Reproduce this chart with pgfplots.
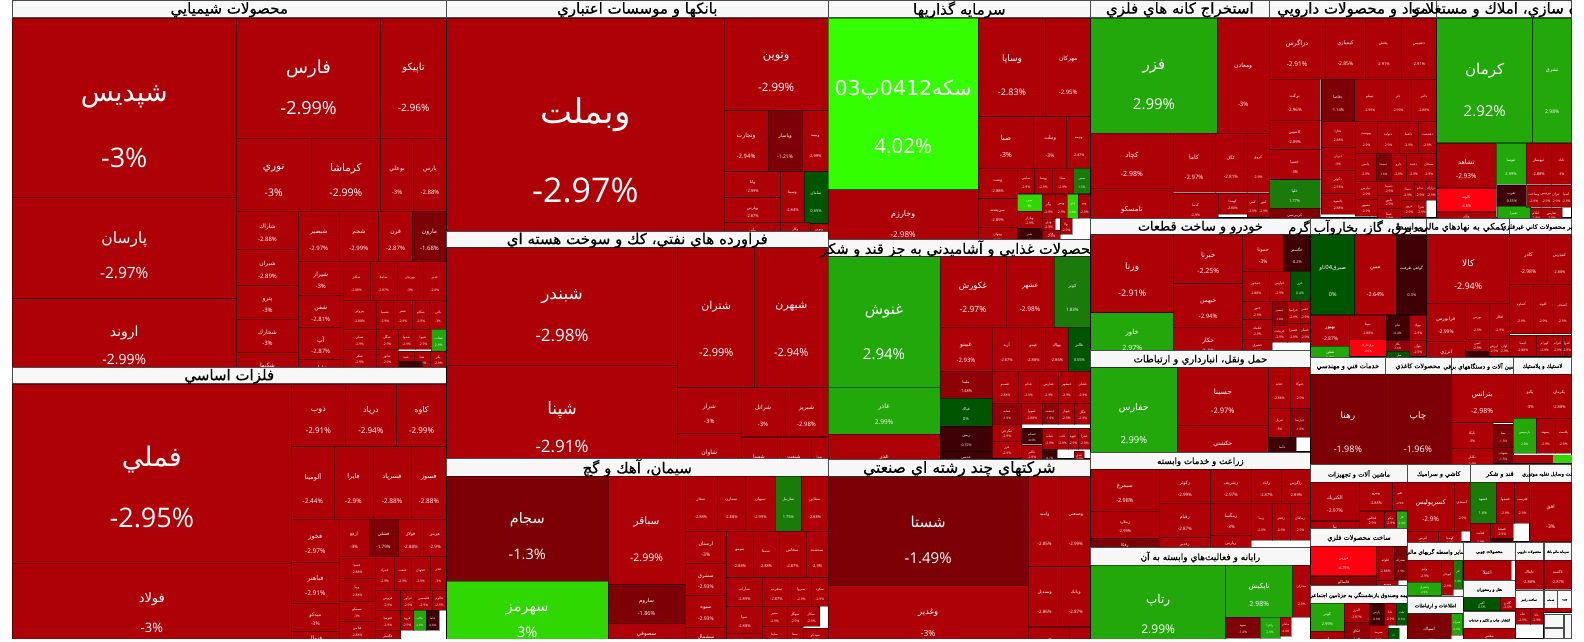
\documentclass[border=0pt]{standalone}
\usepackage{pgfplots}
\pgfplotsset{compat=1.18}
\usepackage{fontspec}
\setmainfont{Open Sans}
\newfontfamily\ar[Script=Arabic]{DejaVu Sans}
\newfontfamily\arh[Script=Arabic,FakeBold=0.5]{DejaVu Sans}
\newfontfamily\pc{Open Sans}
\TeXXeTstate=1
\definecolor{R}{HTML}{AE0007}
\definecolor{M}{HTML}{8F0007}
\definecolor{D}{HTML}{7D0006}
\definecolor{V}{HTML}{3E0005}
\definecolor{H}{HTML}{FF0010}
\definecolor{G}{HTML}{22A80A}
\definecolor{L}{HTML}{33FF00}
\definecolor{B}{HTML}{2FD800}
\definecolor{F}{HTML}{1A7A0A}
\definecolor{N}{HTML}{005500}
\tikzset{txt/.style={text=white,inner sep=0pt,anchor=center}}
% cell: x0 y0 x1 y1 colour size name pct
\newcommand\C[8]{%
 \addplot[fill=#5,draw=black,draw opacity=.42,line width=.8pt,forget plot] coordinates {(#1,#2)(#3,#2)(#3,#4)(#1,#4)} --cycle;
 \node[txt,font=\ar\fontsize{#6}{#6}\selectfont] at (axis cs:{(#1+#3)/2},{#2+.42*(#4-#2)}) {\beginR #7\endR};
 \node[txt,font=\pc\fontsize{#6}{#6}\selectfont] at (axis cs:{(#1+#3)/2},{#2+.75*(#4-#2)}) {#8\%};
}
% tiny red cell: x0 y0 x1 y1 name pct
\newcommand\T[6]{\C{#1}{#2}{#3}{#4}{R}{3.4}{#5}{#6}}
% group: x0 y0 x1 y1 header-bottom size title
\newcommand\Gr[7]{%
 \addplot[fill=white,draw=black,line width=.7pt,forget plot] coordinates {(#1,#2)(#3,#2)(#3,#4)(#1,#4)} --cycle;
 \addplot[fill=black!3,draw=black!70,line width=.7pt,forget plot] coordinates {(#1,#2)(#3,#2)(#3,#5)(#1,#5)} --cycle;
 \node[inner sep=0pt,text=black,font=\arh\fontsize{#6}{#6}\selectfont] at (axis cs:{(#1+#3)/2},{(#2+#5)/2+1}) {\beginR #7\endR};
}
\begin{document}
\begin{tikzpicture}
\begin{axis}[scale only axis,width=1584pt,height=642pt,xmin=0,xmax=1584,ymin=0,ymax=642,y dir=reverse,hide axis,clip=true]
% 1 chemicals
\Gr{12}{0}{446.5}{367}{17.5}{15}{محصولات شيميايي}
\C{12}{18}{236.5}{205}{R}{27}{شپديس}{-3}
\C{12}{197}{236.5}{298.5}{R}{15.5}{پارسان}{-2.97}
\C{12}{298.5}{236.5}{380}{R}{14}{اروند}{-2.99}
\C{236.5}{18}{380.7}{138}{R}{18}{فارس}{-2.99}
\C{380.7}{18}{446.5}{138}{R}{10}{تاپيكو}{-2.96}
\C{236.5}{138}{311}{211}{R}{10.5}{نوري}{-3}
\C{311}{138}{380.7}{211}{R}{10.5}{كرماشا}{-2.99}
\C{380.7}{138}{413.5}{211}{R}{6}{بوعلي}{-3}
\C{413.5}{138}{446.5}{211}{R}{6}{پارس}{-2.88}
\C{236.5}{211}{298.5}{249}{R}{6}{شاراك}{-2.88}
\C{236.5}{249}{298.5}{285}{R}{6}{شيران}{-2.89}
\C{236.5}{285}{298.5}{319}{R}{6}{پترو}{-3}
\C{236.5}{319}{298.5}{352}{R}{6}{شخارك}{-3}
\C{236.5}{352}{298.5}{385}{R}{6}{شكپها}{-2.9}
\C{298.5}{211}{339}{261}{R}{6}{شبصير}{-2.97}
\C{339}{211}{378.7}{261}{R}{6}{شجم}{-2.99}
\C{378.7}{211}{412.5}{261}{R}{6}{قرن}{-2.87}
\C{412.5}{211}{446.5}{261}{D}{6}{مارون}{-1.68}
\C{298.5}{261}{343}{295}{R}{6}{شيراز}{-3}
\C{298.5}{295}{343}{327}{R}{6}{شفن}{-2.81}
\C{298.5}{327}{343}{359}{R}{6}{آپ}{-2.87}
\C{298.5}{359}{343}{380}{R}{5}{شلعاب}{-2.9}
\T{343}{261}{370}{300}{شكلر}{-2.88}
\T{370}{261}{397}{300}{شاملا}{-2.87}
\T{397}{261}{423}{300}{بهرنيان}{-3}
\T{423}{261}{446.5}{300}{غدير}{-2.8}
\T{343}{300}{376}{329}{پتروفن}{-2.88}
\T{376}{300}{393.5}{329}{شسپا}{-2.9}
\T{393.5}{300}{412}{329}{شفر}{-2.9}
\T{412}{300}{429.7}{329}{شكام}{-2.9}
\T{429.7}{300}{446.5}{329}{بالي}{-3}
\T{343}{329}{376}{349}{شيلي}{-2.9}
\T{376}{329}{398}{349}{شگل}{-2.9}
\T{398}{329}{415}{349}{شدوا}{-2.9}
\T{415}{329}{431}{349}{شيوا}{-2.9}
\C{431}{329}{446.5}{351}{G}{3.4}{شتاب}{2.9}
\T{343}{349}{376}{367}{شكر}{-2.9}
\T{376}{349}{398}{367}{شلوز}{-2.9}
\T{398}{351}{414}{367}{شيد}{-2.9}
\T{414}{351}{430}{367}{شتا}{-2.9}
\T{430}{351}{446.5}{367}{پكر}{-2.9}
\C{399}{361}{422}{372}{V}{3}{}{-1}
% 2 base metals
\Gr{12}{367}{446.5}{650}{383.7}{15}{فلزات اساسي}
\C{12}{384}{291.7}{563}{R}{27}{فملي}{-2.95}
\C{12}{563}{291.7}{650}{R}{13}{فولاد}{-3}
\C{291.7}{384}{345}{446.7}{R}{8}{ذوب}{-2.91}
\C{345}{384}{396.7}{446.7}{R}{8}{درپاد}{-2.94}
\C{396.7}{384}{446.5}{446.7}{R}{8}{كاوه}{-2.99}
\C{291.7}{446.7}{334}{519}{R}{6.5}{آلومينا}{-2.44}
\C{334}{446.7}{373}{519}{R}{6.5}{فايرا}{-2.9}
\C{373}{446.7}{411}{519}{R}{6.5}{فسرپاد}{-2.88}
\C{411}{446.7}{446.5}{519}{R}{6.5}{فسوز}{-2.88}
\C{291.7}{519}{339}{562}{R}{6.5}{فخوز}{-2.97}
\C{339}{519}{369}{556}{R}{4.5}{ارفع}{-3}
\C{369}{519}{398}{556}{D}{4.5}{فشلي}{-1.79}
\C{398}{519}{423.5}{556}{R}{4.5}{فولاژ}{-2.88}
\C{423.5}{519}{446.5}{556}{R}{4.5}{هرمز}{-2.9}
\C{291.7}{562}{339}{603}{R}{6.5}{فباهنر}{-2.91}
\C{291.7}{603}{339}{631}{R}{5}{ميدكو}{-3}
\C{291.7}{631}{339}{650}{R}{6}{فنوال}{-2.9}
\T{339}{556}{375}{578}{فسپا}{-2.88}
\T{339}{578}{375}{601}{ويپا}{-2.88}
\T{339}{601}{375}{621}{سيمكو}{-3}
\T{339}{621}{375}{640}{فلامي}{-2.88}
\T{375}{556}{394}{590}{فمراد}{-2.9}
\T{394}{556}{411}{590}{فنفت}{-2.9}
\T{411}{556}{430}{590}{فجهان}{-2.9}
\T{430}{556}{446.5}{590}{فجر}{-3}
\T{375}{590}{400.7}{610}{فروس}{-2.9}
\T{400.7}{590}{415.5}{610}{فرآور}{-2.9}
\T{415.5}{590}{432}{610}{فاسمين}{-2.9}
\T{432}{590}{446.5}{610}{فالوم}{-2.9}
\T{375}{610}{400.7}{630}{فتوسا}{-2.9}
\T{400.7}{610}{413.5}{630}{فرود}{-2.9}
\C{413.5}{610}{426}{630}{G}{3}{بكاب}{2.9}
\C{426}{610}{439}{630}{V}{3}{فاما}{-0.8}
\T{375}{630}{400.7}{645}{فگستر}{-2.9}
% 3 banks
\Gr{446.5}{0}{828}{230}{17.5}{15}{بانكها و موسسات اعتباري}
\C{446.5}{18}{724.3}{248}{R}{34}{وبملت}{-2.97}
\C{724.3}{18}{828}{110.5}{R}{11.5}{وتوين}{-2.99}
\C{724.3}{110.5}{768}{171.5}{R}{6}{وتجارت}{-2.94}
\C{768}{110.5}{802.3}{171.5}{D}{5}{وپاسار}{-1.21}
\C{802.3}{110.5}{828}{171.5}{R}{4}{وبيمه}{-2.99}
\C{724.3}{171.5}{780.7}{197.5}{R}{4}{وانا}{-2.99}
\C{724.3}{197.5}{780.7}{222.5}{R}{4}{وپارس}{-2.87}
\C{780.7}{171.5}{804}{222.5}{R}{4}{وسينا}{-2.84}
\C{804}{171.5}{828}{223.7}{N}{4}{سامان}{0.65}
\T{724.3}{222.5}{780.7}{240}{وآتي}{-2.9}
\T{780.7}{222.5}{810}{240}{وكار}{-2.9}
\T{810}{223.7}{828}{240}{ونوين}{-2.9}
% 4 refinery
\Gr{446.5}{231}{828}{458}{247.5}{15}{فراورده هاي نفتي، كك و سوخت هسته اي}
\C{446.5}{247.5}{677.7}{365}{R}{17}{شبندر}{-2.98}
\C{446.5}{365}{677.7}{473}{R}{17}{شپنا}{-2.91}
\C{677.7}{247.5}{754.7}{387.7}{R}{11}{شتران}{-2.99}
\C{754.7}{247.5}{828}{387.7}{R}{11}{شبهرن}{-2.94}
\C{677.7}{387.7}{741}{433}{R}{6}{شراز}{-3}
\C{677.7}{433}{741}{480}{R}{6}{شاوان}{-2.9}
\C{741}{387.7}{785}{436.7}{R}{6}{شرانل}{-3}
\C{785}{387.7}{828}{436.7}{R}{6}{شبريز}{-2.98}
\C{741}{437}{777}{485}{R}{5}{شسپا}{-2.9}
\C{777}{437}{811}{485}{R}{5}{شنفت}{-2.9}
\C{811}{437}{828}{485}{R}{3.4}{شدا}{-2.9}
% 5 cement
\Gr{446.5}{458}{828}{650}{476}{15}{سيمان، آهك و گچ}
\C{446.5}{476}{608}{581}{D}{14.5}{سجام}{-1.3}
\C{446.5}{581}{608}{650}{B}{14.5}{سهرمز}{3}
\C{608}{476}{685}{584.7}{R}{10.5}{سباقر}{-2.99}
\C{608}{584.7}{685}{623}{D}{5.5}{ساروم}{-1.86}
\C{608}{623}{685}{650}{R}{5.5}{سصوفي}{-2.9}
\C{685}{476}{717}{531}{R}{4}{سفار}{-2.88}
\C{717}{476}{745.7}{531}{R}{4}{سمازن}{-2.88}
\C{745.7}{476}{775}{531}{R}{4}{سبهان}{-2.99}
\C{775}{476}{801.7}{531}{F}{4}{ساربيل}{1.75}
\C{801.7}{476}{828}{531}{R}{4}{سقاين}{-2.88}
\C{685}{531}{726.7}{563}{R}{5}{ارستان}{-3}
\C{685}{563}{726.7}{595}{R}{5}{سشرق}{-2.93}
\C{685}{595}{726.7}{627}{R}{5}{سيوه}{-2.93}
\C{685}{627}{726.7}{650}{R}{5}{سشمال}{-2.9}
\C{726.7}{531}{753}{577.7}{R}{4}{سيمو}{-2.88}
\C{753}{531}{779}{577.7}{R}{4}{سمتا}{-2.88}
\C{779}{531}{806}{577.7}{R}{4}{سخاش}{-2.87}
\C{806}{531}{828}{577.7}{R}{4}{سدشت}{-2.9}
\C{726.7}{577.7}{762}{606}{R}{4}{ساراب}{-2.89}
\C{762}{577.7}{791}{606}{R}{4}{سغرب}{-2.87}
\C{791}{577.7}{811.7}{606}{R}{3.4}{سبزوا}{-2.9}
\C{811.7}{577.7}{828}{606}{R}{3.4}{سكرد}{-2.9}
\C{726.7}{606}{762}{633}{R}{4}{سپا}{-2.88}
\T{762}{606}{787}{626}{سنير}{-2.9}
\T{787}{606}{803}{626}{سهگل}{-2.9}
\T{803}{606}{819.7}{626}{سكار}{-2.9}
\T{726.7}{633}{762}{650}{سپتا}{-2.9}
\T{762}{626}{787}{645}{ساينا}{-2.9}
\T{787}{626}{803}{645}{سفا}{-2.9}
\T{803}{628}{828}{645}{سيدكو}{-2.9}
% 6 investments
\Gr{828}{0}{1090.7}{239}{17.5}{15}{سرمايه گذاريها}
\C{828}{18}{978.3}{189.5}{L}{20.5}{سكه\beginL 0412\endL پ\beginL 03\endL}{4.02}
\C{828}{189.5}{978.3}{250}{R}{8}{وخارزم}{-2.98}
\C{978.3}{18}{1045.7}{116.5}{R}{9}{وساپا}{-2.83}
\C{1045.7}{18}{1090.7}{116.5}{R}{6}{مهركان}{-2.95}
\C{978.3}{116.5}{1033.5}{168.3}{R}{7}{صبا}{-3}
\C{1033.5}{116.5}{1066.7}{168.3}{R}{5}{وملت}{-3}
\C{1066.7}{116.5}{1090.7}{168.3}{R}{3.6}{وبيمه}{-2.87}
\C{978.3}{168.3}{1017}{198.7}{R}{4}{ونفت}{-2.88}
\C{978.3}{198.7}{1017}{227}{R}{4}{سي‌پشته}{-2.89}
\T{978.3}{227}{1017}{245}{ومهان}{-2.9}
\T{1017}{168.3}{1034.7}{193.5}{سامي}{-2.9}
\T{1034.7}{168.3}{1052}{193.5}{وپسا}{-2.9}
\T{1052}{168.3}{1073.3}{193.5}{سابا}{-2.9}
\C{1073.3}{168.3}{1090.7}{193.5}{F}{3.2}{سس}{1.5}
\C{1017}{194}{1042}{211}{B}{3.2}{ثمين}{3}
\T{1017}{211}{1042}{228}{وبازار}{-2.9}
\C{1017}{228}{1042}{245}{V}{3}{شير}{-0.7}
\T{1042}{194}{1055}{218}{وگر}{-2.9}
\T{1055}{194}{1067.3}{218}{ويس}{-2.9}
\C{1067.3}{194}{1078}{218}{B}{3}{ولي}{2.9}
\T{1078}{194}{1090.7}{218}{وبو}{-2.9}
\T{1042}{218}{1055}{230}{ودي}{-2.9}
\T{1060}{218}{1072}{234}{ولا}{-2.9}
\T{1042}{230}{1060}{239}{وتر}{-2.9}
% 7 food
\Gr{828}{239}{1090.7}{458}{256.7}{14.5}{محصولات غذايي و آشاميدني به جز قند و شكر}
\C{828}{256.7}{940}{387.3}{G}{15}{غنوش}{2.94}
\C{828}{387.3}{940}{434.3}{G}{6.5}{غاذر}{2.99}
\C{828}{434.3}{940}{490}{R}{6}{غدر}{-2.9}
\C{940}{256.7}{1006}{327}{R}{8.5}{غكورش}{-2.97}
\C{1006}{256.7}{1054}{327}{R}{6.5}{غشهر}{-2.98}
\C{1054}{256.7}{1090.7}{327}{F}{4.5}{كوثر}{1.83}
\C{940}{327}{992}{371}{R}{6}{غبينو}{-2.93}
\C{992}{327}{1021}{371}{R}{4}{آريه}{-2.87}
\C{1021}{327}{1045.7}{371}{R}{4}{غپينو}{-2.88}
\C{1045.7}{327}{1068}{371}{R}{4}{بهپاك}{-2.86}
\C{1068}{327}{1090.7}{371}{N}{4}{غالبر}{0.55}
\C{940}{371}{992}{398.3}{M}{4}{ملبنا}{-1.48}
\C{940}{398.3}{992}{426}{N}{4}{غپاك}{0}
\C{940}{426}{992}{451}{V}{3.6}{زمين}{-0.72}
\C{940}{451}{992}{468}{V}{3.6}{غديس}{-0.7}
\T{992}{371}{1018}{403}{غصينو}{-2.88}
\T{1018}{371}{1039}{403}{غدام}{-2.9}
\T{1039}{371}{1058.3}{403}{غفارس}{-2.9}
\T{1058.3}{371}{1075}{403}{غبشهر}{-2.9}
\T{1075}{371}{1090.7}{403}{غشان}{-2.9}
\C{992}{403}{1021.7}{424}{M}{3.2}{غمايه}{-1.9}
\T{1021.7}{403}{1042}{424}{غمهرا}{-2.88}
\C{1042}{403}{1058}{424}{M}{3.2}{غدشت}{-1.9}
\T{1058}{403}{1074.7}{424}{غبهار}{-2.9}
\T{1074.7}{403}{1090.7}{424}{غگل}{-2.9}
\T{992}{424}{1021.7}{441}{غگرجي}{-2.9}
\T{992}{441}{1021.7}{458}{غزر}{-2.9}
\C{1021.7}{428}{1042}{444}{V}{3}{غسالم}{-0.6}
\T{1021.7}{445}{1042}{462}{غالبر}{-2.9}
\T{1042}{428}{1057}{449}{غناب}{-2.9}
\T{1057}{428}{1068}{449}{غاب}{-2.9}
\T{1068}{428}{1078}{449}{غيوه}{-2.9}
\T{1078}{428}{1090.7}{449}{غفرا}{-2.9}
\C{1042}{449}{1057}{462}{V}{3}{}{-0.7}
\T{1074}{451}{1084}{462}{غدي}{-2.9}
% 8 multi-industry
\Gr{828}{459}{1090.7}{650}{476.7}{15.5}{شركتهاي چند رشته اي صنعتي}
\C{828}{476.7}{1028.3}{585}{D}{15}{شستا}{-1.49}
\C{828}{585}{1028.3}{650}{R}{8.5}{وغدير}{-3}
\C{1028.3}{476.7}{1061}{566.7}{R}{4.5}{واميد}{-2.85}
\C{1061}{476.7}{1090.7}{566.7}{R}{4.5}{وصنعتي}{-2.99}
\C{1028.3}{566.7}{1061}{626.7}{R}{4.5}{وسنديل}{-2.86}
\C{1061}{566.7}{1090.7}{626.7}{R}{4.5}{وبانك}{-2.87}
\C{1028.3}{627}{1069.3}{660}{R}{4}{وپاكس}{-2.9}
\C{1069.3}{627}{1090.7}{660}{R}{3.5}{وسپه}{-2.9}
% 9 mining
\Gr{1090.7}{0}{1269}{217}{17.5}{15}{استخراج كانه هاي فلزي}
\C{1090.7}{18}{1217.3}{133}{G}{15}{فزر}{2.99}
\C{1217.3}{18}{1269}{133}{R}{6}{ومعادن}{-3}
\C{1090.7}{133}{1173}{188}{R}{7}{كچاد}{-2.98}
\C{1090.7}{188}{1173}{240}{R}{7}{تامسكو}{-2.9}
\C{1173}{133}{1215}{192}{R}{6}{كاما}{-2.97}
\C{1215}{133}{1247}{192}{R}{4.5}{كگل}{-2.81}
\C{1247}{133}{1269}{192}{R}{3.6}{كروي}{-2.9}
\C{1173}{193}{1218}{222}{R}{3.6}{كدما}{-2.9}
\T{1218}{193}{1247}{214}{كهمدا}{-2.88}
\T{1247}{193}{1258}{217}{كمي}{-2.9}
\T{1258}{193}{1269}{217}{كنور}{-2.9}
% 10 pharma
\Gr{1269}{0}{1436.7}{217}{17.5}{15}{مواد و محصولات دارويي}
\C{1269}{18}{1325}{79}{R}{6.5}{دزاگرس}{-2.91}
\C{1325}{18}{1365.7}{79}{R}{5}{كيميازي}{-2.85}
\C{1365.7}{18}{1401}{79}{R}{4}{پخش}{-2.91}
\C{1401}{18}{1436.7}{79}{R}{4}{دشيمي}{-2.91}
\C{1269}{79}{1320.3}{120}{R}{4.5}{بركت}{-2.96}
\C{1269}{120}{1320.3}{149.5}{R}{4}{كاسپين}{-2.89}
\C{1269}{149.5}{1320.3}{179.5}{R}{4}{خسيا}{-3}
\C{1269}{179.5}{1320.3}{208}{F}{4}{خلپا}{1.77}
\C{1269}{208}{1320.3}{225}{D}{3.6}{كي‌بي‌سي}{-1.9}
\C{1321}{79}{1354.7}{121}{D}{4}{دقاضا}{-1.14}
\T{1354.7}{79}{1385}{121}{تيپيكو}{-2.99}
\T{1385}{79}{1411}{121}{دلر}{-2.99}
\T{1411}{79}{1436.7}{121}{دالبر}{-2.88}
\T{1321}{121}{1355}{147}{دفارا}{-2.88}
\T{1321}{147}{1355}{170}{ديران}{-3}
\T{1321}{170}{1355}{193}{دكوثر}{-2.93}
\T{1321}{193}{1355}{214}{داسوه}{-2.88}
\T{1355}{121}{1377}{153}{پيوست}{-2.9}
\T{1377}{121}{1399}{153}{دتوليد}{-2.9}
\T{1399}{121}{1418}{153}{دلقما}{-2.9}
\T{1418}{121}{1436.7}{153}{دهدشت}{-2.9}
\T{1355}{153}{1376}{181}{دامين}{-2.9}
\C{1376}{153}{1391}{181}{D}{3}{دسبحا}{-1.6}
\T{1391}{153}{1406}{181}{دارو}{-2.9}
\T{1406}{153}{1421}{181}{دعبيد}{-2.9}
\T{1421}{153}{1436.7}{181}{سبحان}{-2.9}
\T{1355}{181}{1377}{199}{دپارس}{-2.9}
\T{1355}{199}{1377}{216}{دشبهر}{-2.9}
\T{1377}{181}{1401}{195}{دسينا}{-2.9}
\T{1377}{195}{1401}{208}{دابور}{-2.9}
\T{1377}{208}{1401}{222}{شفا}{-2.9}
\T{1401}{181}{1414}{200}{دتماد}{-2.9}
\T{1414}{181}{1426}{200}{ددام}{-2.9}
\T{1426}{181}{1436.7}{200}{درازك}{-2.9}
\T{1401}{200}{1417}{217}{دروز}{-2.9}
\T{1417}{200}{1426}{217}{دفرا}{-2.9}
% 11 construction
\Gr{1436.7}{0}{1571.7}{217}{17.5}{15}{انبوه سازي، املاك و مستغلات}
\C{1436.7}{18}{1532.7}{142.7}{G}{15}{كرمان}{2.92}
\C{1532.7}{18}{1571.7}{142.7}{G}{5}{ثشرق}{2.98}
\C{1436.7}{143}{1496}{187.7}{R}{6.5}{ثشاهد}{-2.93}
\C{1496}{143}{1526}{184}{G}{4}{ثنوسا}{2.99}
\C{1526}{143}{1551}{184}{R}{4}{ثبهساز}{-2.88}
\C{1551}{143}{1571.7}{184}{R}{3.6}{ثاباد}{-3}
\C{1436.7}{188}{1496}{211.7}{H}{3.8}{ثالوند}{-4.8}
\T{1436.7}{212}{1496}{222}{وآذر}{-2.9}
\C{1496.7}{185}{1526}{206}{V}{3.6}{ثغرب}{-0.55}
\C{1497}{206}{1530.7}{225}{G}{3.4}{ثعمرا}{2.9}
\T{1526.7}{185}{1541}{207}{وساخت}{-2.9}
\T{1541}{185}{1551}{207}{ثپرديس}{-2.9}
\T{1551}{185}{1561}{207}{ثتران}{-2.9}
\T{1561}{185}{1571.7}{207}{آسيا}{-2.9}
\T{1530.7}{208}{1541}{222}{اتكام}{-2.9}
\T{1541}{208}{1562}{222}{ثفارس}{-2.9}
% 12 auto
\Gr{1090.7}{218}{1310}{350}{234.7}{12.8}{خودرو و ساخت قطعات}
\C{1090.7}{234.7}{1173.7}{312.7}{R}{9}{ورنا}{-2.91}
\C{1090.7}{312.7}{1173.7}{360}{G}{7}{خاور}{2.97}
\C{1173.7}{234.7}{1242.7}{283.7}{R}{7}{خبرنا}{-2.25}
\C{1173.7}{283.7}{1242.7}{327}{R}{6}{خبهمن}{-2.94}
\C{1173.7}{327}{1242.7}{360}{R}{6}{خكار}{-2.9}
\C{1242.7}{234.7}{1283.7}{271}{R}{5}{خموتا}{-3}
\C{1283.7}{234.7}{1310}{271}{V}{4}{خگستر}{-0.2}
\T{1242.7}{271}{1269}{301}{خمحور}{-2.88}
\T{1269}{271}{1290}{301}{خپارس}{-2.9}
\C{1290}{271}{1310}{301}{N}{3.4}{خزر}{0.4}
\T{1242.7}{301}{1272}{319.7}{ختور}{-2.9}
\T{1242.7}{319.7}{1272}{339}{خكمك}{-2.9}
\T{1242.7}{339}{1272}{355}{خشرق}{-2.9}
\C{1272}{301}{1287}{325}{M}{3}{خنصير}{-1.8}
\T{1287}{301}{1300}{323}{خزاميا}{-2.9}
\T{1300}{301}{1310}{323}{خفنر}{-2.9}
\T{1272}{325}{1287}{342}{خريخت}{-2.9}
\T{1287}{323}{1300}{342}{خعمرا}{-2.9}
\T{1300}{323}{1310}{342}{خساز}{-2.9}
% 13 transport
\Gr{1090.7}{350}{1310}{451.7}{367.7}{10}{حمل ونقل، انبارداري و ارتباطات}
\C{1090.7}{367.7}{1177}{464}{G}{9.5}{حفارس}{2.99}
\C{1177}{367.7}{1268.7}{425}{R}{7.5}{حسينا}{-2.97}
\C{1177}{425}{1268.7}{470}{R}{6}{حكشتي}{-2.9}
\T{1268.7}{367.7}{1290}{408}{حتايد}{-2.88}
\T{1290}{367.7}{1310}{408}{حتوكا}{-2.9}
\T{1268.7}{408}{1290}{437}{حريل}{-3}
\C{1290}{408}{1310}{437}{M}{3.2}{حپارسا}{-1.6}
\C{1268.7}{437}{1296}{460}{V}{3.2}{حآسا}{-0.5}
% 14 agri
\Gr{1090.7}{452.3}{1310}{547}{469.3}{8.7}{زراعت و خدمات وابسته}
\C{1090.7}{469.3}{1159}{511}{R}{5.5}{سيمرغ}{-2.98}
\C{1090.7}{511}{1159}{538}{R}{4}{زملارد}{-2.99}
\C{1090.7}{538}{1159}{556}{D}{4}{زفكا}{-1.5}
\C{1159}{469.3}{1210.7}{503}{R}{4.5}{زكوثر}{-2.99}
\C{1210.7}{469.3}{1251}{503}{R}{4.5}{زشريف}{-2.97}
\C{1251}{469.3}{1281.7}{503}{R}{4}{زاباد}{-2.87}
\C{1281.7}{469.3}{1310}{503}{R}{4}{زاگرس}{-2.89}
\C{1159}{503}{1210.7}{537}{R}{4.5}{زقيام}{-2.87}
\C{1210.7}{503}{1251}{535}{R}{4.5}{زمگسا}{-3}
\T{1251}{503}{1272}{540}{زبينا}{-2.9}
\T{1272}{503}{1290}{540}{زفجر}{-2.9}
\T{1290}{503}{1310}{540}{زماهان}{-2.9}
\C{1159}{537}{1210.7}{556}{R}{4}{زغدير}{-2.9}
\C{1210.7}{535}{1251}{556}{R}{4}{زپارس}{-2.9}
% 15 IT
\Gr{1090.7}{547}{1310}{650}{565}{9}{رايانه و فعاليت‌هاي وابسته به آن}
\C{1090.7}{565}{1225.7}{650}{G}{12}{رتاپ}{2.99}
\C{1225.7}{565}{1292.7}{617}{G}{7}{تاپكيش}{2.98}
\C{1292.7}{565}{1310}{617}{R}{3.4}{مداران}{-2.9}
\C{1225.7}{617}{1260}{638}{D}{3.4}{سپيد}{-1.4}
\C{1260}{617}{1280}{638}{G}{3.2}{رافزا}{2.9}
\C{1280}{617}{1291}{636}{R}{3}{ماهان}{-2.9}
% 16 electricity
\Gr{1310.7}{218}{1426.7}{356}{234.7}{13}{عرضه برق، گاز، بخاروآب گرم}
\C{1310.7}{234.7}{1354.7}{314.7}{N}{5.5}{صبرق\beginL 04\endL ثاو}{0}
\C{1354.7}{234.7}{1396}{314.7}{R}{5.5}{مبين}{-2.64}
\C{1396}{234.7}{1426.7}{314.7}{V}{3.8}{گواهي ظرفيت}{-0.3}
\C{1310.7}{315}{1349.7}{346}{R}{5}{بهپور}{-2.87}
\C{1310.7}{346}{1349.7}{362}{G}{4}{شفن}{2.9}
\T{1349.7}{315}{1386}{339}{بمپنا}{-2.88}
\C{1386}{315}{1409}{339.7}{V}{3.2}{ثنام}{-0.4}
\T{1409}{315}{1426.7}{340}{بيوك}{-2.9}
\C{1349.7}{339}{1386}{356}{H}{3.2}{برق‌خارك}{-4.6}
\C{1386}{340}{1409}{351}{M}{3}{بگاز}{-1.6}
\C{1386}{351}{1412}{362}{N}{3}{ميل}{0.2}
\T{1409}{340}{1426.7}{356}{بتوان}{-2.9}
% 17 financial aux
\Gr{1426.7}{218}{1509.7}{356}{234.7}{9}{فعاليتهاي كمكي به نهادهاي مالي واسط}
\C{1426.7}{234.7}{1509.7}{303}{R}{9}{كالا}{-2.94}
\C{1426.7}{303}{1465}{341}{R}{5}{فرابورس}{-2.99}
\T{1465}{303}{1489.7}{339}{بورس}{-2.9}
\T{1489.7}{303}{1509.7}{339}{افكار}{-2.9}
\C{1426.7}{341}{1465.7}{368}{R}{5}{انرژي}{-2.9}
\T{1465.7}{339}{1489}{351}{امين}{-2.9}
\C{1465.7}{351}{1489}{362}{V}{3}{}{-0.5}
\T{1489}{339}{1499}{356}{ارزش}{-2.9}
\T{1499}{339}{1509.7}{356}{اوان}{-2.9}
% 18 other non-metal
\Gr{1509.7}{218}{1571.7}{356}{234.7}{6.3}{ساير محصولات كاني غيرفلزي}
\C{1509.7}{234.7}{1547}{284}{R}{5}{كاذر}{-2.98}
\C{1547}{234.7}{1571.7}{284}{R}{3.8}{كفپارس}{-2.88}
\T{1509.7}{284}{1533}{333.7}{كساوه}{-2.9}
\T{1533}{284}{1553}{333.7}{كلوند}{-2.9}
\T{1553}{284}{1571.7}{333.7}{كصدف}{-2.9}
\T{1509.7}{335}{1536}{356}{كيمبا}{-2.88}
\T{1536}{335}{1553}{356}{كهرام}{-2.9}
\T{1553}{335}{1562}{356}{كترام}{-2.9}
\T{1562}{335}{1571.7}{356}{كفرا}{-2.9}
% 19..22
\Gr{1310.7}{357}{1385}{463.3}{374}{6.6}{خدمات فني و مهندسي}
\C{1310.7}{374}{1385}{475}{D}{9}{رهنا}{-1.98}
\Gr{1385}{357}{1451}{463.3}{374}{6.4}{محصولات كاغذي}
\C{1385}{374}{1451}{475}{D}{9}{چاپ}{-1.96}
\Gr{1451}{357}{1513.3}{463.3}{374}{6}{ماشين آلات و دستگاههاي برقي}
\C{1451}{374}{1513.3}{422.7}{R}{7}{بترانس}{-2.98}
\C{1451}{422.7}{1493}{448}{R}{3.6}{بايكا}{-3}
\C{1493}{424}{1513.3}{447}{D}{3.2}{بمپا}{-1.5}
\C{1451}{448}{1493}{470}{R}{3.6}{بكابل}{-2.9}
\C{1493}{447}{1513.3}{463}{D}{3.2}{بشهاب}{-1.5}
\Gr{1513.3}{357}{1571.7}{463.3}{374}{5.6}{لاستيك و پلاستيك}
\C{1513.3}{374}{1547}{418}{R}{4.2}{پكنو}{-3}
\C{1547}{374}{1571.7}{418}{R}{4}{پكرمان}{-2.88}
\C{1513.3}{418}{1536}{453}{G}{3.2}{پارسيس}{2.8}
\T{1536}{418}{1555}{453}{پسهند}{-2.9}
\T{1555}{418}{1571.7}{453}{پلاست}{-2.9}
\addplot[fill=R,draw=none,forget plot] coordinates {(1513.3,454.7)(1553,454.7)(1553,463.3)(1513.3,463.3)} --cycle;
\addplot[fill=B,draw=none,forget plot] coordinates {(1553.3,454.7)(1571.7,454.7)(1571.7,463.3)(1553.3,463.3)} --cycle;
% 23 machinery
\Gr{1310.7}{464.7}{1407.3}{528}{482}{6.6}{ماشين آلات و تجهيزات}
\C{1310.7}{482}{1359.3}{520.7}{R}{5}{الكتريك}{-2.97}
\C{1359.3}{482}{1392.7}{510.7}{R}{3.8}{ونيرو}{-2.88}
\C{1392.7}{482}{1407.3}{510.7}{R}{3}{تكنو}{-2.9}
\T{1359.3}{511}{1384.7}{528}{فخاس}{-2.9}
\T{1384.7}{511}{1396.7}{528}{تپكو}{-2.9}
\C{1396.7}{511}{1407.3}{528}{G}{3}{كار}{2.9}
\C{1310.7}{521}{1359.3}{535}{R}{4.5}{تيا}{-2.9}
% 24 metal products
\Gr{1310.7}{528.3}{1407.3}{585.7}{546}{6.6}{ساخت محصولات فلزي}
\C{1310.7}{546}{1376.7}{575.7}{H}{3.8}{فزرين}{-4.75}
\T{1376.7}{546}{1394}{580}{فلوله}{-2.88}
\C{1394}{546}{1407.3}{580}{D}{3}{تمحركه}{-1.5}
\C{1310.7}{576}{1376.7}{592}{M}{4}{فاسالو}{-2}
\T{1376.7}{580}{1398}{592}{وسيم}{-2.9}
% 25 insurance
\Gr{1310.7}{585.7}{1407.3}{650}{603}{5.2}{بيمه وصندوق بازنشستگي به جزتامين اجتماعي}
\C{1310.7}{603}{1344}{631}{G}{4}{كوثر}{2.99}
\C{1344}{603}{1369}{622}{R}{3.4}{البرز}{-2.87}
\C{1369}{603}{1384}{625}{V}{3}{پارس}{-0.8}
\T{1384}{603}{1396}{625}{دانا}{-2.9}
\C{1396}{603}{1407.3}{625}{N}{3}{ملت}{0.6}
\C{1310.7}{631}{1344}{650}{R}{4}{بپاس}{-2.9}
\C{1344}{622}{1369}{645}{M}{3.4}{اتكاي}{-2.1}
\T{1369}{625}{1388}{645}{سرمد}{-2.9}
\C{1388}{628}{1399}{645}{N}{3}{رز}{0.3}
% 26..28
\Gr{1407.3}{464.7}{1470}{541.7}{482}{6.3}{كاشي و سراميك}
\C{1407.3}{482}{1454}{531}{R}{6.5}{كسرپوليس}{-2.9}
\T{1454}{482}{1470}{531}{كسعدي}{-2.9}
\T{1407.3}{531}{1438.7}{548}{كپرس}{-2.9}
\T{1438.7}{531}{1461}{548}{كهمدا}{-2.9}
\Gr{1470}{464.7}{1529.7}{541.7}{482}{6.3}{قند و شكر}
\C{1470}{482}{1496}{523.3}{F}{3.6}{قشهد}{1.8}
\T{1496}{482}{1514.7}{523.3}{قصفها}{-2.9}
\T{1514.7}{482}{1529.7}{523.3}{قلرست}{-2.9}
\T{1470}{523.3}{1490.7}{548}{قثابت}{-2.9}
\T{1490.7}{523.3}{1513}{538}{قنيشا}{-2.9}
\C{1490.7}{538}{1513}{548}{V}{3}{}{-0.5}
\Gr{1529.7}{464.7}{1571.7}{541.7}{482}{5}{ساخت وسايل نقليه موتوري}
\C{1529.7}{482}{1571.7}{541.7}{R}{5}{افق}{-3}
% 29..36
\Gr{1407.3}{542}{1463.7}{596}{560}{5.6}{ساير واسطه گريهاي مالي}
\C{1407.3}{560}{1441.7}{582}{R}{3.4}{وليز}{-2.9}
\C{1407.3}{582}{1441.7}{595.7}{G}{3}{ولشرق}{2.9}
\T{1441.7}{560}{1453}{595}{لبوتان}{-2.9}
\C{1453}{560}{1462.7}{589}{F}{3}{ليز}{1.4}
\Gr{1407.3}{596.5}{1463.7}{650}{613.7}{5}{اطلاعات و ارتباطات}
\C{1407.3}{613.7}{1451}{650}{D}{4.5}{اسپاك}{-1.48}
\C{1451}{613.7}{1462.7}{635}{G}{3}{همراه}{2.9}
\Gr{1463.7}{542}{1515}{580}{560}{4}{محصولات چوبي}
\C{1463.7}{560}{1511}{590}{R}{5}{اعتلا}{-2.9}
\Gr{1463.7}{580}{1515}{611}{597.7}{4}{هتل و رستوران}
\C{1463.7}{597.7}{1500}{610.7}{N}{3.4}{اكبر}{0.5}
\T{1500}{597.7}{1515}{610.7}{گلدن}{-2.9}
\Gr{1463.7}{611}{1515}{650}{628}{3.4}{انتشار، چاپ و تكثير و خدمات}
\C{1463.7}{628}{1515}{650}{R}{4}{معتبر}{-2.9}
\Gr{1515}{542}{1543.3}{590}{560}{3.3}{محصولات دارويي}
\C{1515}{560}{1543.3}{589}{R}{4}{تايناك}{-2.88}
\Gr{1544}{542}{1571.7}{590}{560}{3}{سرمايه مالي بانك}
\C{1544}{560}{1571.7}{589}{R}{4}{تاكسه}{-2.87}
\Gr{1515}{590}{1543.3}{638}{608}{3}{ساخت راديو}
\T{1515}{608}{1530}{624}{ثناه}{-2.9}
\T{1530}{608}{1543.3}{624}{تانا}{-2.9}
\Gr{1544}{590}{1557.5}{612}{608}{2.5}{خدمات}
\Gr{1557.5}{590}{1571.7}{612}{608}{2.5}{چوب}
\addplot[fill=R,draw=none,forget plot] coordinates {(1544,608)(1571.7,608)(1571.7,612)(1544,612)} --cycle;
\Gr{1544}{614}{1563}{627}{627}{2.5}{}
\Gr{1564}{614}{1571.7}{638}{638}{2.5}{}
\Gr{1544}{628}{1563}{638}{638}{2.5}{}
% margins
\addplot[fill=white,draw=none,forget plot] coordinates {(1572,-2)(1586,-2)(1586,644)(1572,644)} --cycle;
\addplot[fill=white,draw=none,forget plot] coordinates {(-2,638.5)(1586,638.5)(1586,644)(-2,644)} --cycle;
\addplot[fill=white,draw=none,forget plot] coordinates {(-2,-2)(11.7,-2)(11.7,644)(-2,644)} --cycle;
\end{axis}
\end{tikzpicture}
\end{document}
